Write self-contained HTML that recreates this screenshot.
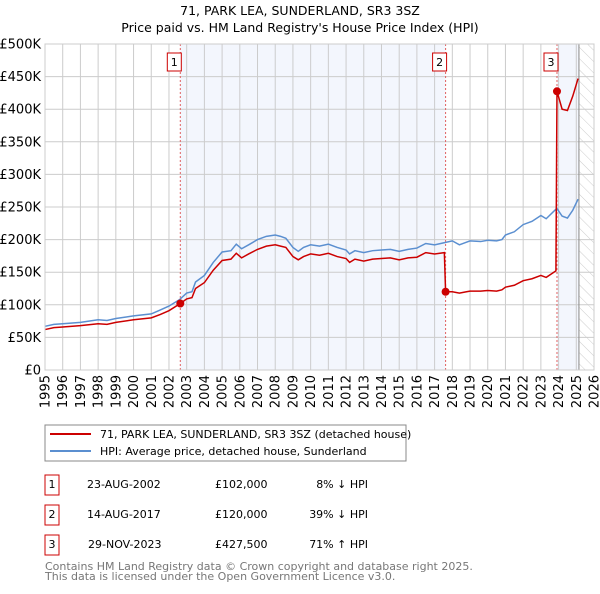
<!DOCTYPE html>
<html><head><meta charset="utf-8"><style>
body{margin:0;background:#fff;font-family:"DejaVu Sans","Liberation Sans",sans-serif;}
svg text{font-family:"DejaVu Sans","Liberation Sans",sans-serif;}
</style></head><body>
<svg id="chart" width="600" height="590" xmlns="http://www.w3.org/2000/svg">
<text x="300" y="15" text-anchor="middle" font-size="12.5">71, PARK LEA, SUNDERLAND, SR3 3SZ</text>
<text x="300" y="32" text-anchor="middle" font-size="12.5">Price paid vs. HM Land Registry's House Price Index (HPI)</text>
<g id="plot"></g>
<rect x="45" y="425" width="361" height="36" fill="#fff" stroke="#888"/>
<line x1="50" y1="434" x2="91" y2="434" stroke="#cc0000" stroke-width="2"/>
<text x="100" y="438" font-size="11">71, PARK LEA, SUNDERLAND, SR3 3SZ (detached house)</text>
<line x1="50" y1="451" x2="91" y2="451" stroke="#5b8fd0" stroke-width="2"/>
<text x="100" y="455" font-size="11">HPI: Average price, detached house, Sunderland</text>
<g font-size="11">
<rect x="45" y="475" width="14" height="20" fill="none" stroke="#cc0000"/><text x="52" y="488" text-anchor="middle">1</text>
<text x="87" y="488">23-AUG-2002</text><text x="215" y="488">£102,000</text><text x="368" y="488" text-anchor="end">8% ↓ HPI</text>
<rect x="45" y="505" width="14" height="20" fill="none" stroke="#cc0000"/><text x="52" y="518" text-anchor="middle">2</text>
<text x="87" y="518">14-AUG-2017</text><text x="215" y="518">£120,000</text><text x="368" y="518" text-anchor="end">39% ↓ HPI</text>
<rect x="45" y="535" width="14" height="20" fill="none" stroke="#cc0000"/><text x="52" y="548" text-anchor="middle">3</text>
<text x="88" y="548">29-NOV-2023</text><text x="215" y="548">£427,500</text><text x="368" y="548" text-anchor="end">71% ↑ HPI</text>
</g>
<text x="45" y="570" font-size="11" fill="#777">Contains HM Land Registry data © Crown copyright and database right 2025.</text>
<text x="45" y="580" font-size="11" fill="#777">This data is licensed under the Open Government Licence v3.0.</text>
</svg>
<script>
const hpiYears=[1995,1995.5,1996,1997,1998,1998.5,1999,2000,2001,2001.5,2002,2002.6,2003,2003.3,2003.5,2004,2004.5,2005,2005.5,2005.8,2006.1,2006.5,2007,2007.5,2008,2008.3,2008.6,2009,2009.3,2009.6,2010,2010.5,2011,2011.5,2012,2012.2,2012.5,2013,2013.5,2014,2014.5,2015,2015.5,2016,2016.5,2017,2017.5,2018,2018.4,2018.8,2019,2019.6,2020,2020.5,2020.8,2021,2021.5,2022,2022.5,2023,2023.3,2023.9,2024.2,2024.5,2024.8,2025.1];
const hpiValues=[67,70,71,73,77,76,79,83,86,92,98,108,118,120,135,145,165,181,183,193,186,192,200,205,207,205,202,188,182,188,192,190,193,188,184,178,183,180,183,184,185,182,185,187,194,192,195,198,192,196,198,197,199,198,200,207,212,223,228,237,232,248,236,233,245,262];
const priceYears=[1995,1995.5,1996,1997,1998,1998.5,1999,2000,2001,2001.5,2002,2002.64,2003,2003.3,2003.5,2004,2004.5,2005,2005.5,2005.8,2006.1,2006.5,2007,2007.5,2008,2008.3,2008.6,2009,2009.3,2009.6,2010,2010.5,2011,2011.5,2012,2012.2,2012.5,2013,2013.5,2014,2014.5,2015,2015.5,2016,2016.5,2017,2017.55,2017.62,2018,2018.4,2018.8,2019,2019.6,2020,2020.5,2020.8,2021,2021.5,2022,2022.5,2023,2023.3,2023.85,2023.91,2024.2,2024.5,2024.8,2025.1];
const priceValues=[62,65,66,68,71,70,73,77,80,85,91,102,109,111,125,134,153,168,170,179,172,178,185,190,192,190,188,174,169,174,178,176,179,174,171,165,170,167,170,171,172,169,172,173,180,178,180,120,120,118,120,121,121,122,121,123,127,130,137,140,145,142,152,427.5,400,398,420,447];
const saleYears=[2002.64,2017.62,2023.91];
const saleValues=[102,120,427.5];
const saleLabels=["1","2","3"];
const yTicks=[0,50,100,150,200,250,300,350,400,450,500];
const yTickLabels=["£0","£50K","£100K","£150K","£200K","£250K","£300K","£350K","£400K","£450K","£500K"];
const xTicks=[1995,1996,1997,1998,1999,2000,2001,2002,2003,2004,2005,2006,2007,2008,2009,2010,2011,2012,2013,2014,2015,2016,2017,2018,2019,2020,2021,2022,2023,2024,2025,2026];
const dataEnd=2025.15;

const X0=45,X1=594,Y0=370,Y1=44;
const xs=y=>X0+(y-1995)/(2026-1995)*(X1-X0);
const ys=v=>Y0-v/500*(Y0-Y1);
const NS="http://www.w3.org/2000/svg";
const g=document.getElementById('plot');
function mk(t,a){const e=document.createElementNS(NS,t);for(const k in a)e.setAttribute(k,a[k]);g.appendChild(e);return e;}
let e=mk('rect',{x:xs(saleYears[0]),y:Y1,width:xs(saleYears[1])-xs(saleYears[0]),height:Y0-Y1,fill:'#f3f6fd'});


e=mk('rect',{x:xs(saleYears[2]),y:Y1,width:xs(dataEnd)-xs(saleYears[2]),height:Y0-Y1,fill:'#f3f6fd'});


const defs=document.createElementNS(NS,'defs');
defs.innerHTML='<pattern id="hatch" width="8" height="8" patternUnits="userSpaceOnUse" patternTransform="rotate(-45)"><line x1="0" y1="0" x2="0" y2="8" stroke="#ccc" stroke-width="1"/></pattern>';
g.appendChild(defs);
e=mk('rect',{x:xs(dataEnd),y:Y1,width:X1-xs(dataEnd),height:Y0-Y1,fill:'url(#hatch)'});


yTicks.forEach((v,i)=>{
 e=mk('line',{x1:X0,x2:X1,y1:ys(v),y2:ys(v),stroke:'#ccc','stroke-width':1});
 
 
 e=mk('text',{x:X0-4,y:ys(v)+4.5,'text-anchor':'end','font-size':'13'});e.textContent=yTickLabels[i];
 
 
});
xTicks.forEach(y=>{
 e=mk('line',{x1:xs(y),x2:xs(y),y1:Y1,y2:Y0,stroke:'#ccc','stroke-width':1});
 
 
 e=mk('text',{x:0,y:0,'text-anchor':'end','font-size':'13',transform:`translate(${xs(y)+4.5},${Y0+5}) rotate(-90)`});e.textContent=y;
 
 
});
e=mk('line',{x1:xs(dataEnd),x2:xs(dataEnd),y1:Y1,y2:Y0,stroke:'#888','stroke-width':1});


saleYears.forEach((y,i)=>{
 e=mk('line',{x1:xs(y),x2:xs(y),y1:Y1,y2:Y0,stroke:'#e06060','stroke-width':1,'stroke-dasharray':'2,2'});
 
 
 e=mk('rect',{x:xs(y)-9-4,y:53,width:14,height:18,fill:'#fff',stroke:'#cc0000'});
 
 
 e=mk('text',{x:xs(y)-6,y:66,'text-anchor':'middle','font-size':'11'});e.textContent=saleLabels[i];
 
 
});
e=mk('polyline',{points:hpiYears.map((y,i)=>xs(y)+','+ys(hpiValues[i])).join(' '),fill:'none',stroke:'#5b8fd0','stroke-width':1.5});


e=mk('polyline',{points:priceYears.map((y,i)=>xs(y)+','+ys(priceValues[i])).join(' '),fill:'none',stroke:'#cc0000','stroke-width':1.5});


saleYears.forEach((y,i)=>{
 e=mk('circle',{cx:xs(y),cy:ys(saleValues[i]),r:4,fill:'#cc0000'});
 
 
});
e=mk('rect',{x:X0,y:Y1,width:X1-X0,height:Y0-Y1,fill:'none',stroke:'#ccc'});


</script>
</body></html>
